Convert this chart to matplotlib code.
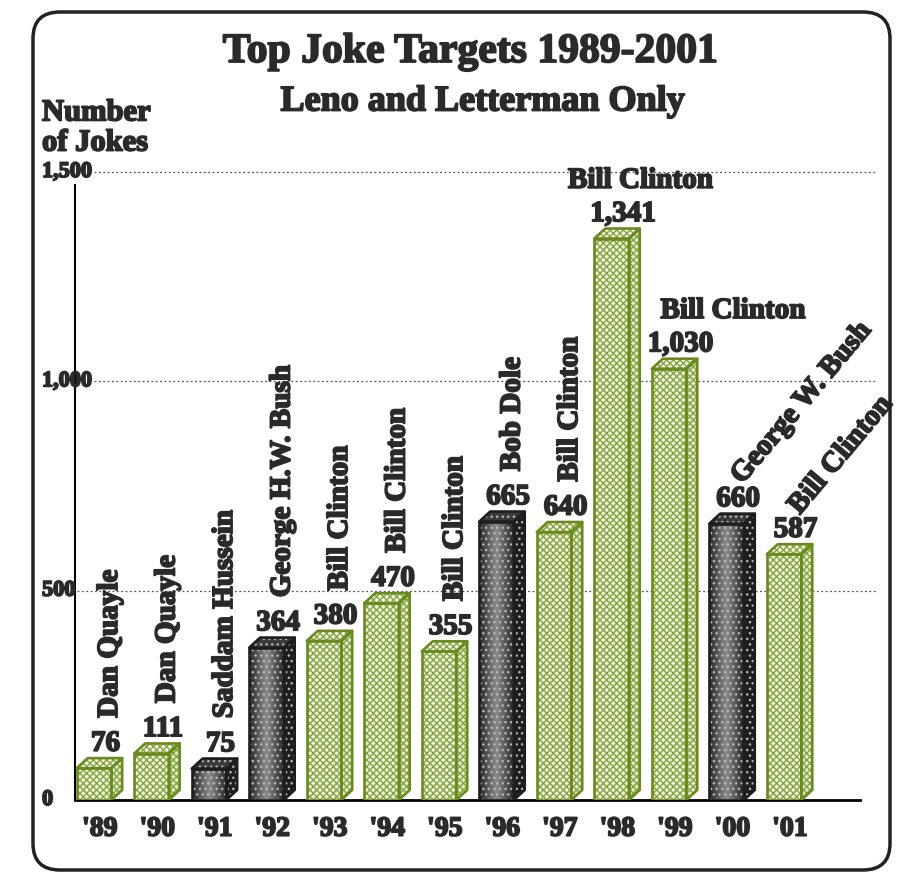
import matplotlib.pyplot as plt
import matplotlib.patheffects as pe
from matplotlib.patches import Polygon, FancyBboxPatch
from matplotlib.colors import LinearSegmentedColormap
import numpy as np

# data
years = ["'89", "'90", "'91", "'92", "'93", "'94", "'95", "'96", "'97", "'98", "'99", "'00", "'01"]
jokes = [76, 111, 75, 364, 380, 470, 355, 665, 640, 1341, 1030, 660, 587]
targets = ["Dan Quayle", "Dan Quayle", "Saddam Hussein", "George H.W. Bush",
           "Bill Clinton", "Bill Clinton", "Bill Clinton", "Bob Dole",
           "Bill Clinton", "Bill Clinton", "Bill Clinton", "George W. Bush",
           "Bill Clinton"]
dark_years = ["'91", "'92", "'96", "'00"]
yticks = [0, 500, 1000, 1500]

plt.rcParams['font.family'] = 'Liberation Serif'
plt.rcParams['font.weight'] = 'bold'
plt.rcParams['hatch.linewidth'] = 1.0

W, H = 901, 884
fig = plt.figure(figsize=(W / 100, H / 100), dpi=100)
ax = fig.add_axes([75 / W, 84 / H, 785 / W, 628 / H])

GREEN = '#6a8a1f'
GREEN_HATCH = '#86a33e'
DARK = '#2b2b2b'
TXT = '#2a2a2a'
heavy = [pe.withStroke(linewidth=1.3, foreground=TXT)]
dark_cmap = LinearSegmentedColormap.from_list('dk', ['#262626', '#5a5a5a', '#8c8c8c', '#5a5a5a', '#262626'])

x = np.arange(len(jokes))
bw = 0.6     # front face width
dx = 0.19    # depth, x units
dy = 24      # depth, data units


def face(pts, fc, hc, ec, hatch):
    ax.add_patch(Polygon(pts, closed=True, facecolor=fc, edgecolor=hc,
                         hatch=hatch, lw=0, zorder=3))
    ax.add_patch(Polygon(pts, closed=True, fill=False, edgecolor=ec,
                         lw=1.9, joinstyle='round', zorder=4))


for xi, v, yr in zip(x, jokes, years):
    dark = yr in dark_years
    if dark:
        fc, fc_side, fc_top, hc, ec, hatch = 'none', '#1e1e1e', '#3a3a3a', '#b5b5b5', '#1e1e1e', '...'
    else:
        fc, fc_side, fc_top, hc, ec, hatch = '#eef3df', '#e2ead0', '#f4f7ea', GREEN_HATCH, GREEN, 'xxxxx'
    l, r = xi - bw / 2, xi + bw / 2
    # front face via bar
    bars = ax.bar(xi, v, width=bw, color=fc, edgecolor=hc, hatch=hatch, lw=0, zorder=3)
    if dark:
        grad = np.linspace(0, 1, 64).reshape(1, -1)
        im = ax.imshow(grad, cmap=dark_cmap, extent=(l, r, 0, v), aspect='auto',
                       zorder=2.9, interpolation='bicubic')
        im.set_clip_path(bars[0])
    ax.bar(xi, v, width=bw, fill=False, edgecolor=ec, lw=1.9, zorder=4)
    side = [(r, 0), (r + dx, dy), (r + dx, v + dy), (r, v)]
    top = [(l, v), (l + dx, v + dy), (r + dx, v + dy), (r, v)]
    face(side, fc_side, hc, ec, hatch)
    face(top, fc_top, hc, ec, hatch)

# value labels and target names
for i, (xi, v, name) in enumerate(zip(x, jokes, targets)):
    ax.annotate(f"{v:,}", (xi + 0.2, v + dy), xytext=(0, 1), textcoords='offset points',
                ha='center', va='bottom', fontsize=21, color=TXT, annotation_clip=False,
                path_effects=heavy)
    if i <= 8:
        ax.annotate(name, (xi + 0.27, v + dy), xytext=(0, 29), textcoords='offset points',
                    rotation=90, ha='center', va='bottom', fontsize=21, color=TXT,
                    annotation_clip=False, path_effects=heavy)
    elif i == 9:
        ax.annotate(name, (xi + 0.5, v + dy), xytext=(0, 25), textcoords='offset points',
                    ha='center', va='bottom', fontsize=21, color=TXT, annotation_clip=False,
                    path_effects=heavy)
    elif i == 10:
        ax.annotate(name, (xi - 0.15, v + dy), xytext=(0, 25), textcoords='offset points',
                    ha='left', va='bottom', fontsize=21, color=TXT, annotation_clip=False,
                    path_effects=heavy)
    else:
        ax.annotate(name, (xi + 0.35, v + dy), xytext=(0, 18), textcoords='offset points',
                    rotation=50, rotation_mode='anchor', ha='left', va='bottom',
                    fontsize=21, color=TXT, annotation_clip=False, path_effects=heavy)

ax.set_xlim(-0.33, 13.32)
ax.set_ylim(0, 1500)

for s in ['top', 'right']:
    ax.spines[s].set_visible(False)
ax.spines['bottom'].set_linewidth(2)
ax.spines['left'].set_linewidth(1.5)
ax.spines['left'].set_bounds(0, 1470)

ax.set_xticks(x + 0.1, years, fontsize=20, color=TXT)
for lab in ax.get_xticklabels():
    lab.set_path_effects(heavy)
ax.tick_params(axis='x', length=0, pad=12)
ax.set_yticks([])

# y tick labels, left aligned, with dotted grid lines
for t in yticks:
    ax.text(-0.042, t, f"{t:,}", transform=ax.get_yaxis_transform(), ha='left',
            va='center', fontsize=16, color=TXT, zorder=5, path_effects=heavy)
    if t > 0:
        start = 0.024 if t >= 1000 else 0.003
        ax.axhline(t, xmin=start, xmax=1.02, color='#555555', lw=0.9,
                   ls=(0, (1.5, 2)), clip_on=False, zorder=1)

# titles
fig.text(470 / W, 1 - 52 / H, "Top Joke Targets 1989-2001", ha='center', va='center',
         fontsize=30, color=TXT, path_effects=heavy)
fig.text(483 / W, 1 - 102 / H, "Leno and Letterman Only", ha='center', va='center',
         fontsize=26, color=TXT, path_effects=heavy)
fig.text(42 / W, 1 - 128 / H, "Number\nof Jokes", ha='left', va='center',
         fontsize=22, color=TXT, linespacing=1.05, path_effects=heavy)

# rounded border
border = FancyBboxPatch((33 / W, 1 - 870 / H), 857 / W, 858 / H,
                        boxstyle="round,pad=0,rounding_size=0.03",
                        transform=fig.transFigure, fill=False, edgecolor='#222222',
                        lw=2.5)
fig.patches.append(border)

fig.savefig('out.png', dpi=100, facecolor='white')
